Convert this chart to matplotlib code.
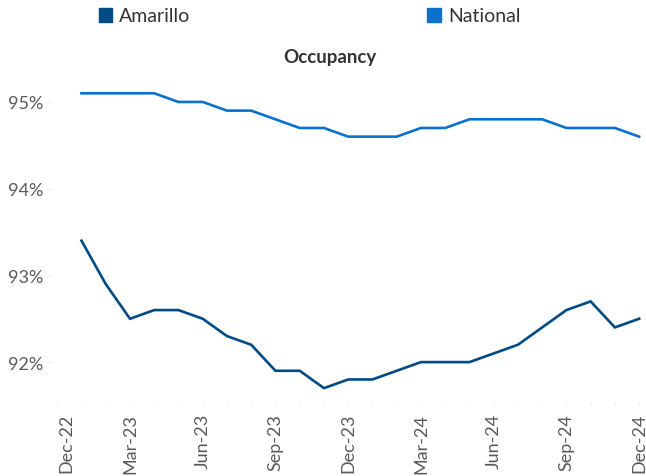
import matplotlib.pyplot as plt
import matplotlib.patches as mpatches
import matplotlib.transforms as mtransforms

plt.rcParams['font.family'] = ['Lato', 'DejaVu Sans']

# monthly occupancy, Jan-23 .. Dec-24
months = ['Jan-23', 'Feb-23', 'Mar-23', 'Apr-23', 'May-23', 'Jun-23',
          'Jul-23', 'Aug-23', 'Sep-23', 'Oct-23', 'Nov-23', 'Dec-23',
          'Jan-24', 'Feb-24', 'Mar-24', 'Apr-24', 'May-24', 'Jun-24',
          'Jul-24', 'Aug-24', 'Sep-24', 'Oct-24', 'Nov-24', 'Dec-24']
amarillo = [93.4, 92.9, 92.5, 92.6, 92.6, 92.5, 92.3, 92.2, 91.9, 91.9, 91.7, 91.8,
            91.8, 91.9, 92.0, 92.0, 92.0, 92.1, 92.2, 92.4, 92.6, 92.7, 92.4, 92.5]
national = [95.1, 95.1, 95.1, 95.1, 95.0, 95.0, 94.9, 94.9, 94.8, 94.7, 94.7, 94.6,
            94.6, 94.6, 94.7, 94.7, 94.8, 94.8, 94.8, 94.8, 94.7, 94.7, 94.7, 94.6]
tick_labels = ['Dec-22', 'Mar-23', 'Jun-23', 'Sep-23', 'Dec-23',
               'Mar-24', 'Jun-24', 'Sep-24', 'Dec-24']
y_ticks = [92, 93, 94, 95]

c_ama = '#004A86'
c_nat = '#0A72CE'
grey = '#595959'

fig = plt.figure(figsize=(6.46, 4.77), dpi=100)
ax = fig.add_axes([52.4 / 646, 1 - 403 / 477, (644 - 52.4) / 646, 333 / 477])

x = list(range(len(months)))
ax.plot(x, amarillo, color=c_ama, lw=1.9, solid_joinstyle='miter')
ax.plot(x, national, color=c_nat, lw=1.9, solid_joinstyle='miter')

ax.set_xlim(-1.2, 23.2)
ax.set_ylim(91.54, 95.38)

# Dec-22 sits one month before the first point
ax.set_xticks([-1 + 3 * i for i in range(len(tick_labels))])
ax.set_xticklabels(tick_labels, rotation=90)
ax.set_xticks(range(-1, 24), minor=True)
ax.set_yticks(y_ticks)
ax.set_yticklabels([f'{v}%' for v in y_ticks])

for s in ax.spines.values():
    s.set_visible(False)
ax.tick_params(axis='x', which='both', length=2.5, color='#EDEDED', labelsize=13,
               labelcolor=grey, pad=5.5)
ax.tick_params(axis='y', length=3, color='#EDEDED', labelsize=13,
               labelcolor=grey, pad=3.5)

# excel nudges the first label inside
first = ax.get_xticklabels()[0]
first.set_transform(first.get_transform() +
                    mtransforms.ScaledTranslation(0.094, 0, fig.dpi_scale_trans))

fig.text(330 / 646, 1 - 57 / 477, 'Occupancy', ha='center', va='center',
         fontsize=13.5, fontweight='bold', color='#333333')

handles = [mpatches.Patch(color=c_ama, label='Amarillo'),
           mpatches.Patch(color=c_nat, label='National')]
fig.legend(handles=handles, loc='center', bbox_to_anchor=(0.479, 1 - 17 / 477),
           ncol=2, frameon=False, fontsize=14, handlelength=0.7, handleheight=0.7,
           handletextpad=0.35, columnspacing=12.2, labelcolor='#333333')

fig.savefig('out.png', dpi=100)
